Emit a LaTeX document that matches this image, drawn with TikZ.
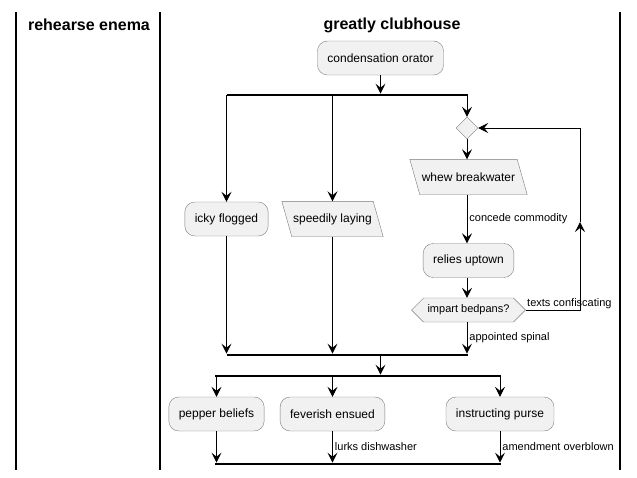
\documentclass[tikz,border=0pt]{standalone}
\usepackage{xcolor}
\usepackage{fontspec}
\setmainfont{Liberation Sans}
\usepackage{tikz}
\usetikzlibrary{arrows.meta, positioning, shapes.geometric, shapes.symbols, backgrounds}

\definecolor{actfill}{HTML}{F1F1F1}
\definecolor{actline}{HTML}{7A7A7A}

\tikzset{
  act/.style={draw=actline, fill=actfill, rounded corners=10, minimum height=34, inner xsep=10, font=\fontsize{12}{14}\selectfont},
  inout/.style={minimum height=35, inner xsep=6, font=\fontsize{12}{14}\selectfont},
  choice/.style={diamond, aspect=1, draw=actline, fill=actfill, minimum width=22, minimum height=22, inner sep=0},
  ask/.style={signal, signal to=west and east, draw=actline, fill=actfill, minimum height=24, inner xsep=4, font=\fontsize{11}{13}\selectfont},
  bar/.style={fill=black, inner sep=0, minimum height=2.2},
  lbl/.style={font=\fontsize{11}{13}\selectfont, inner sep=2},
  lane/.style={line width=1.5},
  flow/.style={-{Stealth[length=10, width=10, inset=4]}, line width=0.9}
}
% slanted box behind an inout node
\newcommand{\ioframe}[1]{%
  \filldraw[draw=actline, fill=actfill] ([xshift=-5]#1.north west) -- ([xshift=-5]#1.north east)
    -- ([xshift=5]#1.south east) -- ([xshift=5]#1.south west) -- cycle;}

\begin{document}
\begin{tikzpicture}[x=1pt, y=-1pt]
  \useasboundingbox (0,0) rectangle (637,477);
  % swimlanes
  \draw[lane] (16,12) -- (16,470);
  \draw[lane] (160,12) -- (160,470);
  \draw[lane] (620,12) -- (620,470);
  \node[font=\bfseries\fontsize{16}{18}\selectfont] (lanea) at (89,25) {rehearse enema};
  \node[font=\bfseries\fontsize{16}{18}\selectfont] (laneb) at (392,25) {greatly clubhouse};

  \node[act] (cond) at (380.5,58) {condensation orator};
  \node[bar, minimum width=241] (fork1) at (347,95) {};

  \node[act] (icky) at (226.5,219) {icky flogged};
  \node[inout, minimum width=91] (speed) at (332.5,219) {speedily laying};
  \node[choice] (dia) at (467,128) {};
  \node[inout, minimum width=107] (whew) at (468.5,177) {whew breakwater};
  \node[act] (relies) at (468.5,260.5) {relies uptown};
  \node[ask] (bedpans) at (468.5,310) {impart bedpans?};
  \coordinate (loopup) at (580,222);
  \begin{scope}[on background layer]
    \ioframe{speed}
    \ioframe{whew}
  \end{scope}

  \node[bar, minimum width=241] (join1) at (347,355) {};
  \node[bar, minimum width=286] (fork2) at (357.5,376) {};

  \node[act] (pepper) at (216.5,414) {pepper beliefs};
  \node[act] (fever) at (332.5,414) {feverish ensued};
  \node[act] (instr) at (500,414) {instructing purse};
  \node[bar, minimum width=286] (join2) at (357.5,464) {};

  \path[flow]
  (cond) edge (cond |- fork1.north)
  (icky |- fork1) edge (icky)
  (speed |- fork1) edge (speed)
  (dia |- fork1) edge (dia)
  (dia) edge (dia |- whew.north)
  (dia |- whew.south) edge node[lbl, right] {concede commodity} (dia |- relies.north)
  (dia |- relies.south) edge (dia |- bedpans.north)
  (dia |- bedpans.south) edge node[lbl, right] {appointed spinal} (dia |- join1.north)
  (icky) edge (icky |- join1.north)
  (speed) edge (speed |- join1.north)
  (cond |- join1) edge (cond |- fork2.north)
  (pepper |- fork2) edge (pepper)
  (fever |- fork2) edge (fever)
  (instr |- fork2) edge (instr)
  (pepper) edge (pepper |- join2.north)
  (fever) edge node[lbl, right] {lurks dishwasher} (fever |- join2.north)
  (instr) edge node[lbl, right] {amendment overblown} (instr |- join2.north);

  \draw[flow] (bedpans.east) node[lbl, above right, inner sep=1] {texts confiscating} -| (loopup);
  \draw[flow] (loopup) |- (dia.east);
\end{tikzpicture}
\end{document}
